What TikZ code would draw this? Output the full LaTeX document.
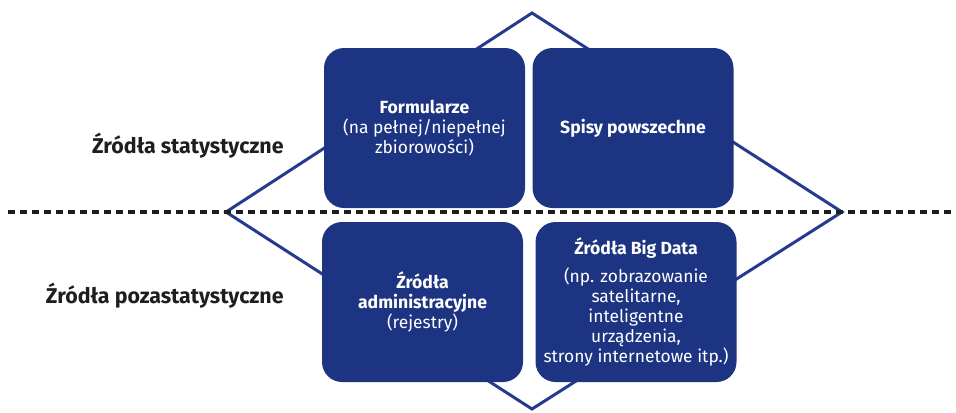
\documentclass[tikz,border=0pt]{standalone}
\usepackage{fontspec}
\setmainfont{Fira Sans}
\usepackage{xcolor}
\usepackage{tikz}
\usetikzlibrary{calc, positioning}
\definecolor{navy}{RGB}{29, 52, 130}
\definecolor{diamondblue}{RGB}{36, 60, 142}
\definecolor{darktext}{RGB}{30, 30, 30}
\newcommand{\boxtitle}{\bfseries\fontsize{8.8}{11}\selectfont}
\tikzset{
    boxnode/.style = {draw=none, rectangle, rounded corners=10pt, fill=navy, text=white,
      minimum width=100.5pt, minimum height=80pt, inner sep=0pt, node distance=0em,
      font=\fontsize{8.7}{10}\selectfont},
    labelnode/.style = {draw=none, fill=none, rectangle, inner sep=0em, anchor=east,
      text=darktext, font=\fontsize{10.7}{12}\selectfont\bfseries},
    divider/.style = {darktext, line width=2pt, dash pattern=on 3.6pt off 2.4pt},
    diamondline/.style = {diamondblue, line width=1.5pt, line join=miter},
    every text node part/.style={align=center}
}

\begin{document}
\begin{tikzpicture}[x=0.5pt, y=-0.5pt]
    \useasboundingbox (0,0) rectangle (956,412);

    % diamond behind the boxes
    \coordinate (top) at (532,13);
    \coordinate (left) at (226,212);
    \coordinate (right) at (842,212);
    \coordinate (bottom) at (532,409);
    \draw [diamondline] (top) -- (right) -- (bottom) -- (left) -- cycle;

    % dashed divider
    \coordinate (lineL) at (8,212);
    \coordinate (lineR) at (956,212);
    \draw [divider] (lineL) -- (lineR);

    \node [labelnode, name=stat] at (284,146) {Źródła statystyczne};
    \node [labelnode, name=pozastat] at (284,296) {Źródła pozastatystyczne};

    \node [boxnode, name=Formularze] at (424.5,128)
        {\boxtitle Formularze\\(na pełnej/niepełnej\\zbiorowości)};
    \node [boxnode, name=Spisy, right of=Formularze, xshift=104.25pt]
        {\boxtitle Spisy powszechne};
    \node [boxnode, name=Admin, below of=Formularze, xshift=-1pt, yshift=-87pt]
        {\boxtitle Źródła\\\boxtitle administracyjne\\(rejestry)};
    \node [boxnode, name=BigData, right of=Admin, xshift=106.75pt]
        {\boxtitle Źródła Big Data\\[4pt](np. zobrazowanie\\satelitarne,\\inteligentne\\urządzenia,\\strony internetowe itp.)};
\end{tikzpicture}
\end{document}
